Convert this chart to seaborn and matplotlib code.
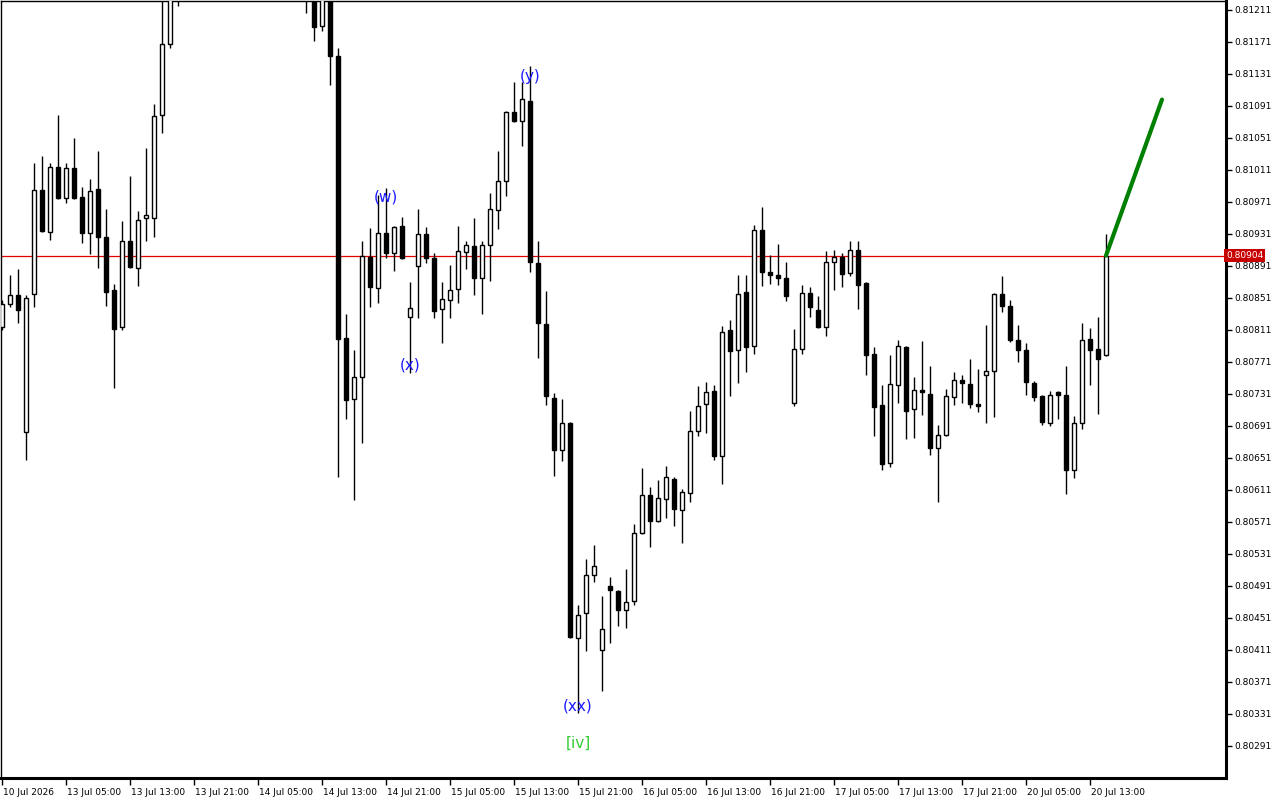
import numpy as np
import pandas as pd
import matplotlib
matplotlib.use("Agg")
import matplotlib.pyplot as plt
import matplotlib.transforms as mtransforms
import seaborn as sns

# ---------------- data (hourly candles) ----------------
opens = [0.80815, 0.80844, 0.80855, 0.80684, 0.80856, 0.80986, 0.80934, 0.81015, 0.80976, 0.81014,
         0.80977, 0.80932, 0.80987, 0.80927, 0.80861, 0.80815, 0.80922, 0.80889, 0.80951, 0.80951,
         0.81080, 0.81169, 0.81250, 0.81262, 0.81283, 0.81301, 0.81290, 0.81326, 0.81318, 0.81305,
         0.81314, 0.81309, 0.81301, 0.81297, 0.81288, 0.81276, 0.81284, 0.81262, 0.81248, 0.81236,
         0.81191, 0.81233, 0.81154, 0.80801, 0.80725, 0.80752, 0.80902, 0.80864, 0.80932, 0.80907,
         0.80941, 0.80827, 0.80891, 0.80931, 0.80901, 0.80837, 0.80848, 0.80862, 0.80909, 0.80916,
         0.80876, 0.80917, 0.80961, 0.80997, 0.81084, 0.81072, 0.81097, 0.80895, 0.80819, 0.80726,
         0.80661, 0.80695, 0.80426, 0.80457, 0.80505, 0.80411, 0.80491, 0.80485, 0.80461, 0.80472,
         0.80557, 0.80605, 0.80572, 0.80600, 0.80625, 0.80586, 0.80607, 0.80685, 0.80719, 0.80735,
         0.80654, 0.80811, 0.80786, 0.80859, 0.80791, 0.80936, 0.80884, 0.80880, 0.80876, 0.80720,
         0.80787, 0.80857, 0.80836, 0.80815, 0.80896, 0.80902, 0.80882, 0.80911, 0.80870, 0.80781,
         0.80717, 0.80645, 0.80742, 0.80790, 0.80712, 0.80736, 0.80731, 0.80664, 0.80680, 0.80727,
         0.80749, 0.80744, 0.80719, 0.80755, 0.80760, 0.80856, 0.80841, 0.80799, 0.80786, 0.80745,
         0.80729, 0.80695, 0.80734, 0.80730, 0.80636, 0.80695, 0.80800, 0.80787, 0.80780]

highs = [0.80848, 0.80880, 0.80887, 0.80855, 0.81020, 0.81029, 0.81020, 0.81080, 0.81020, 0.81051,
         0.80990, 0.81000, 0.81035, 0.80962, 0.80869, 0.80947, 0.81004, 0.80960, 0.81039, 0.81094,
         0.81235, 0.81262, 0.81275, 0.81290, 0.81310, 0.81318, 0.81335, 0.81348, 0.81330, 0.81322,
         0.81328, 0.81318, 0.81315, 0.81306, 0.81300, 0.81290, 0.81292, 0.81275, 0.81262, 0.81250,
         0.81240, 0.81244, 0.81164, 0.80831, 0.80786, 0.80922, 0.80939, 0.80980, 0.80989, 0.80941,
         0.80952, 0.80871, 0.80962, 0.80940, 0.80907, 0.80871, 0.80892, 0.80941, 0.80922, 0.80951,
         0.80922, 0.80982, 0.81035, 0.81085, 0.81121, 0.81121, 0.81141, 0.80922, 0.80860, 0.80732,
         0.80725, 0.80696, 0.80467, 0.80525, 0.80542, 0.80479, 0.80502, 0.80486, 0.80512, 0.80569,
         0.80639, 0.80615, 0.80624, 0.80641, 0.80627, 0.80612, 0.80710, 0.80741, 0.80746, 0.80742,
         0.80816, 0.80824, 0.80880, 0.80880, 0.80942, 0.80965, 0.80905, 0.80919, 0.80896, 0.80812,
         0.80867, 0.80865, 0.80854, 0.80910, 0.80911, 0.80907, 0.80922, 0.80922, 0.80871, 0.80790,
         0.80742, 0.80780, 0.80799, 0.80791, 0.80752, 0.80797, 0.80766, 0.80692, 0.80737, 0.80759,
         0.80755, 0.80775, 0.80762, 0.80817, 0.80857, 0.80879, 0.80849, 0.80817, 0.80795, 0.80747,
         0.80730, 0.80735, 0.80735, 0.80766, 0.80704, 0.80820, 0.80814, 0.80827, 0.80931]

lows = [0.80811, 0.80840, 0.80820, 0.80649, 0.80840, 0.80933, 0.80924, 0.80975, 0.80970, 0.80975,
        0.80920, 0.80906, 0.80889, 0.80841, 0.80739, 0.80811, 0.80889, 0.80866, 0.80922, 0.80927,
        0.81057, 0.81164, 0.81216, 0.81245, 0.81270, 0.81280, 0.81284, 0.81310, 0.81296, 0.81292,
        0.81300, 0.81295, 0.81290, 0.81280, 0.81270, 0.81262, 0.81255, 0.81240, 0.81207, 0.81172,
        0.81185, 0.81117, 0.80627, 0.80700, 0.80599, 0.80670, 0.80840, 0.80845, 0.80901, 0.80885,
        0.80900, 0.80757, 0.80826, 0.80895, 0.80826, 0.80795, 0.80826, 0.80845, 0.80887, 0.80855,
        0.80831, 0.80872, 0.80937, 0.80979, 0.81071, 0.81041, 0.80884, 0.80776, 0.80717, 0.80629,
        0.80647, 0.80426, 0.80332, 0.80410, 0.80496, 0.80360, 0.80420, 0.80441, 0.80439, 0.80467,
        0.80556, 0.80540, 0.80571, 0.80576, 0.80566, 0.80545, 0.80596, 0.80679, 0.80682, 0.80649,
        0.80619, 0.80729, 0.80745, 0.80759, 0.80781, 0.80866, 0.80869, 0.80867, 0.80847, 0.80716,
        0.80781, 0.80827, 0.80814, 0.80804, 0.80861, 0.80865, 0.80879, 0.80837, 0.80755, 0.80679,
        0.80636, 0.80640, 0.80720, 0.80675, 0.80676, 0.80705, 0.80655, 0.80596, 0.80679, 0.80717,
        0.80720, 0.80714, 0.80709, 0.80695, 0.80702, 0.80834, 0.80796, 0.80771, 0.80730, 0.80722,
        0.80692, 0.80691, 0.80700, 0.80606, 0.80626, 0.80687, 0.80742, 0.80706, 0.80779]

closes = [0.80844, 0.80855, 0.80836, 0.80851, 0.80986, 0.80935, 0.81015, 0.80976, 0.81014, 0.80976,
          0.80932, 0.80985, 0.80927, 0.80859, 0.80812, 0.80922, 0.80890, 0.80949, 0.80955, 0.81079,
          0.81169, 0.81250, 0.81262, 0.81283, 0.81301, 0.81290, 0.81326, 0.81318, 0.81305, 0.81314,
          0.81309, 0.81301, 0.81297, 0.81288, 0.81276, 0.81284, 0.81262, 0.81248, 0.81236, 0.81190,
          0.81233, 0.81154, 0.80800, 0.80724, 0.80752, 0.80904, 0.80865, 0.80932, 0.80907, 0.80940,
          0.80901, 0.80839, 0.80931, 0.80901, 0.80835, 0.80850, 0.80861, 0.80910, 0.80917, 0.80876,
          0.80917, 0.80962, 0.80997, 0.81084, 0.81072, 0.81100, 0.80896, 0.80820, 0.80729, 0.80661,
          0.80695, 0.80427, 0.80455, 0.80505, 0.80516, 0.80437, 0.80486, 0.80461, 0.80471, 0.80557,
          0.80605, 0.80572, 0.80601, 0.80627, 0.80587, 0.80609, 0.80685, 0.80716, 0.80734, 0.80654,
          0.80809, 0.80785, 0.80856, 0.80790, 0.80936, 0.80884, 0.80880, 0.80876, 0.80854, 0.80787,
          0.80857, 0.80840, 0.80815, 0.80896, 0.80902, 0.80881, 0.80911, 0.80867, 0.80780, 0.80715,
          0.80644, 0.80744, 0.80791, 0.80710, 0.80736, 0.80734, 0.80664, 0.80680, 0.80729, 0.80749,
          0.80745, 0.80719, 0.80716, 0.80760, 0.80856, 0.80841, 0.80799, 0.80786, 0.80746, 0.80727,
          0.80696, 0.80730, 0.80730, 0.80636, 0.80695, 0.80799, 0.80786, 0.80775, 0.80904]

x_tick_labels = ["10 Jul 2026", "13 Jul 05:00", "13 Jul 13:00", "13 Jul 21:00", "14 Jul 05:00",
                 "14 Jul 13:00", "14 Jul 21:00", "15 Jul 05:00", "15 Jul 13:00", "15 Jul 21:00",
                 "16 Jul 05:00", "16 Jul 13:00", "16 Jul 21:00", "17 Jul 05:00", "17 Jul 13:00",
                 "17 Jul 21:00", "20 Jul 05:00", "20 Jul 13:00"]
y_tick_values = [0.80291, 0.80331, 0.80371, 0.80411, 0.80451, 0.80491, 0.80531, 0.80571,
                 0.80611, 0.80651, 0.80691, 0.80731, 0.80771, 0.80811, 0.80851, 0.80891,
                 0.80931, 0.80971, 0.81011, 0.81051, 0.81091, 0.81131, 0.81171, 0.81211]

last_price = 0.80904
projection_x = [138, 145]
projection_y = [0.80904, 0.81099]

wave_labels = ["(w)", "(x)", "(y)", "(xx)"]
wave_x = [48, 51, 66, 72]
wave_y = [0.80977, 0.80767, 0.81128, 0.80341]
degree_label = "[iv]"
degree_x = 72
degree_y = 0.80295

df = pd.DataFrame({"open": opens, "high": highs, "low": lows, "close": closes})
df["idx"] = np.arange(len(df))
df["bull"] = df["close"] >= df["open"]

# ---------------- figure ----------------
sns.set_style("white")
plt.rcParams["font.family"] = ["DejaVu Sans"]

fig = plt.figure(figsize=(12.8, 8), dpi=100)
ax = fig.add_axes([1 / 1280, 22 / 800, 1225 / 1280, 777 / 800])

# wicks
ax.vlines(df["idx"], df["low"], df["high"], color="black", linewidth=1.0, zorder=2)
# bodies
body_bottom = np.minimum(df["open"], df["close"])
body_height = np.abs(df["close"] - df["open"])
body_height = np.maximum(body_height, 0.000012)
face = np.where(df["bull"], "white", "black")
ax.bar(df["idx"], body_height, bottom=body_bottom, width=0.62, color=face,
       edgecolor="black", linewidth=1.0, zorder=3)

# last price line
ax.axhline(last_price, color="#e00000", linewidth=0.9, zorder=1)

# projection line
sns.lineplot(x=projection_x, y=projection_y, ax=ax, color="#008000", linewidth=3.0, zorder=4)

# wave labels
for t, xx, yy in zip(wave_labels, wave_x, wave_y):
    ax.text(xx, yy, t, color="#1a1aff", fontsize=11, ha="center", va="center", zorder=5)
ax.text(degree_x, degree_y, degree_label, color="#33cc33", fontsize=11, ha="center",
        va="center", zorder=5)

# axes limits
ax.set_xlim(-0.125, 153.0)
ax.set_ylim(0.80251, 0.812222)

# ticks
ax.yaxis.tick_right()
ax.set_yticks(y_tick_values)
ax.set_yticklabels([f"{v:.5f}" for v in y_tick_values])
ax.set_xticks(np.arange(0, 8 * len(x_tick_labels), 8))
ax.set_xticklabels(x_tick_labels, ha="left")
ax.tick_params(axis="y", which="major", direction="out", length=4, width=1,
               labelsize=6.5, pad=2, colors="black", right=True, left=False)
ax.tick_params(axis="x", which="major", direction="out", length=5, width=1,
               labelsize=6.5, pad=2, colors="black", bottom=True)
for lab in ax.get_xticklabels():
    lab.set_horizontalalignment("left")
    lab.set_x(0)
offset = mtransforms.ScaledTranslation(1 / 100, 0, fig.dpi_scale_trans)
for lab in ax.get_xticklabels():
    lab.set_transform(lab.get_transform() + offset)

for side in ["left", "top"]:
    ax.spines[side].set_linewidth(1.0)
    ax.spines[side].set_color("black")
for side in ["right", "bottom"]:
    ax.spines[side].set_linewidth(2.2)
    ax.spines[side].set_color("black")
ax.set_xlabel("")
ax.set_ylabel("")
ax.grid(False)

# last price tag
trans = mtransforms.blended_transform_factory(ax.transAxes, ax.transData)
ax.text(1.0, last_price, "0.80904", transform=trans, ha="left", va="center",
        fontsize=6.5, color="white", clip_on=False, zorder=6,
        bbox=dict(boxstyle="square,pad=0.2", facecolor="#c80000", edgecolor="none"))

fig.savefig("out.png", dpi=100, facecolor="white")
